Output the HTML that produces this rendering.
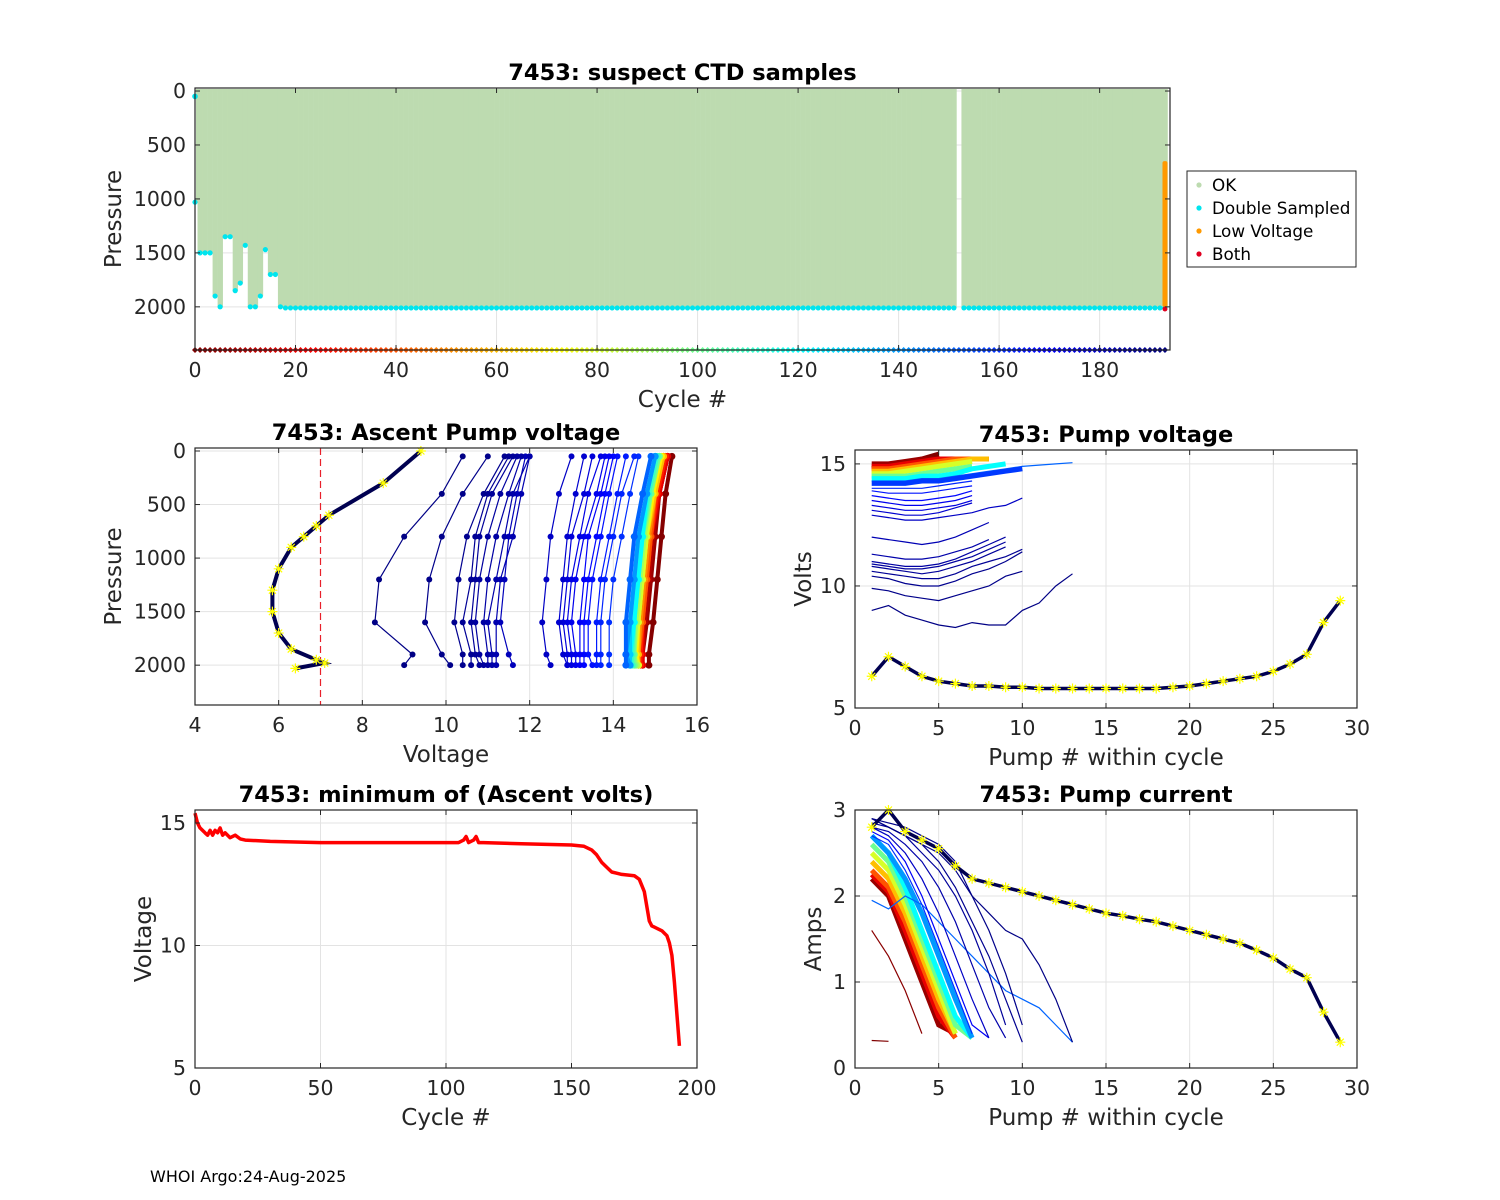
<!DOCTYPE html>
<html><head><meta charset="utf-8"><style>
html,body{margin:0;padding:0;background:#fff;}
svg{display:block;font-family:"DejaVu Sans","Liberation Sans",sans-serif;}
</style></head><body>
<svg id="fig" width="1500" height="1200" viewBox="0 0 1500 1200">
<rect x="0" y="0" width="1500" height="1200" fill="#fff"/>
<text x="150" y="1182" font-size="16" fill="#000">WHOI Argo:24-Aug-2025</text>
</svg>
<script>
// ---------- DATA ----------
const topMaxP = [1030,1500,1500,1500,1900,2000,1350,1350,1850,1780,1430,2000,2000,1900,1470,1700,1700,2000,2010,2010,
2010,2010,2010,2010,2010,2010,2010,2010,2010,2010,2010,2010,2010,2010,2010,2010,2010,2010,2010,2010,
2010,2010,2010,2010,2010,2010,2010,2010,2010,2010,2010,2010,2010,2010,2010,2010,2010,2010,2010,2010,
2010,2010,2010,2010,2010,2010,2010,2010,2010,2010,2010,2010,2010,2010,2010,2010,2010,2010,2010,2010,
2010,2010,2010,2010,2010,2010,2010,2010,2010,2010,2010,2010,2010,2010,2010,2010,2010,2010,2010,2010,
2010,2010,2010,2010,2010,2010,2010,2010,2010,2010,2010,2010,2010,2010,2010,2010,2010,2010,2010,2010,
2010,2010,2010,2010,2010,2010,2010,2010,2010,2010,2010,2010,2010,2010,2010,2010,2010,2010,2010,2010,
2010,2010,2010,2010,2010,2010,2010,2010,2010,2010,2010,2010,0,2010,2010,2010,2010,2010,2010,2010,
2010,2010,2010,2010,2010,2010,2010,2010,2010,2010,2010,2010,2010,2010,2010,2010,2010,2010,2010,2010,
2010,2010,2010,2010,2010,2010,2010,2010,2010,2010,2010,2010,2010,2010];
const lowVoltCycle = 193;
const lowVoltRange = [650, 2000];
const bothPoint = [193, 2020];
const topXTicks = [0,20,40,60,80,100,120,140,160,180];
const pTicks = [0,500,1000,1500,2000];

const profP = [50,400,800,1200,1600,1900,2000];
const profCycles = [192,191,190,189,188,187,186,185,184,182,180,178,176,174,172,170,168,166,164,162,160,150,140,130,120,110,100,90,80,70,60,50,40,30,20,10,5,1];
const profVolts = [
[10.4,9.9,9.0,8.4,8.3,9.2,9.0],[11.0,10.4,9.9,9.6,9.5,9.9,10.1],[11.4,10.9,10.5,10.3,10.2,10.4,10.4],
[11.5,11.0,10.7,10.6,10.4,10.6,10.6],[11.6,11.1,10.8,10.7,10.6,10.7,10.8],[11.7,11.3,11.0,10.8,10.7,10.8,10.9],
[11.8,11.5,11.2,11.0,10.9,11.0,11.0],[12.0,11.6,11.4,11.2,11.0,11.1,11.1],[12.0,11.8,11.6,11.3,11.2,11.2,11.2],
[11.9,11.7,11.5,11.4,11.3,11.5,11.6],[13.0,12.7,12.5,12.4,12.3,12.4,12.5],[13.3,13.1,12.9,12.8,12.7,12.8,12.9],
[13.5,13.3,13.0,12.9,12.8,12.9,12.9],[13.7,13.4,13.2,13.0,12.9,13.0,13.0],[13.8,13.6,13.3,13.1,13.0,13.1,13.1],
[13.9,13.7,13.4,13.3,13.2,13.2,13.2],[14.0,13.8,13.6,13.4,13.3,13.3,13.3],[14.1,13.9,13.7,13.5,13.4,13.4,13.5],
[14.3,14.1,13.9,13.7,13.6,13.6,13.6],[14.5,14.2,14.0,13.8,13.7,13.7,13.7],[14.6,14.4,14.2,14.0,13.9,13.9,13.9],
[14.9,14.7,14.5,14.4,14.3,14.3,14.3],[15.0,14.8,14.6,14.5,14.4,14.3,14.4],[15.0,14.8,14.6,14.5,14.4,14.4,14.4],
[15.0,14.8,14.7,14.6,14.5,14.4,14.4],[15.05,14.85,14.7,14.6,14.5,14.45,14.45],[15.1,14.9,14.7,14.6,14.5,14.5,14.5],
[15.1,14.9,14.75,14.65,14.55,14.5,14.55],[15.1,14.9,14.8,14.7,14.6,14.5,14.6],[15.15,14.95,14.8,14.7,14.6,14.55,14.6],
[15.2,15.0,14.8,14.7,14.6,14.6,14.6],[15.2,15.0,14.85,14.75,14.65,14.6,14.6],[15.2,15.0,14.9,14.8,14.7,14.6,14.6],
[15.25,15.05,14.9,14.8,14.7,14.65,14.65],[15.3,15.1,14.9,14.8,14.7,14.7,14.7],[15.3,15.1,14.95,14.85,14.75,14.7,14.7],
[15.3,15.1,15.0,14.9,14.8,14.7,14.7],[15.4,15.25,15.15,15.05,14.95,14.85,14.85]];
const minProfP = [0,300,600,700,800,900,1100,1300,1500,1700,1850,1950,1980,2030];
const minProfV = [9.4,8.5,7.2,6.9,6.6,6.3,6.0,5.85,5.85,6.0,6.3,6.9,7.1,6.4];
const voltThreshold = 7;
const volTicksX = [4,6,8,10,12,14,16];

const pumpCycles = [192,191,190,189,188,187,186,185,183,180,178,175,172,168,165,162,158,150,120,100,80,60,40,20,5,0];
const pumpVolts = [
[9.0,9.2,8.8,8.6,8.4,8.3,8.5,8.4,8.4,9.0,9.3,10.0,10.5],[9.9,9.8,9.6,9.5,9.4,9.6,9.8,10.0,10.4,10.6],
[10.4,10.3,10.1,10.0,10.0,10.2,10.5,10.7,11.0,11.4],[10.6,10.5,10.4,10.3,10.3,10.5,10.8,11.0,11.2,11.5],
[10.8,10.7,10.6,10.5,10.6,10.8,11.0,11.3,11.6],[10.9,10.8,10.7,10.7,10.8,11.0,11.2,11.5,11.8],
[11.0,10.9,10.8,10.8,10.9,11.1,11.4,11.7,12.0],[11.3,11.2,11.1,11.1,11.2,11.4,11.6,11.9],
[12.0,11.9,11.8,11.7,11.8,12.0,12.3,12.6],[12.9,12.8,12.7,12.7,12.8,12.9,13.0,13.2,13.3,13.6],
[13.1,13.0,12.9,12.9,13.0,13.2,13.4],[13.3,13.2,13.1,13.1,13.2,13.3,13.5],[13.5,13.4,13.3,13.3,13.4,13.5,13.7],
[13.7,13.6,13.5,13.5,13.6,13.7,13.9],[13.9,13.8,13.8,13.8,13.9,14.0,14.1],[14.0,14.0,14.0,14.0,14.1,14.2,14.3],
[14.2,14.2,14.2,14.3,14.3,14.4,14.5,14.6,14.7,14.8],[14.3,14.3,14.3,14.4,14.4,14.5,14.6,14.7,14.8,14.9,14.95,15.0,15.05],
[14.4,14.4,14.4,14.5,14.5,14.6,14.8,14.9,15.0],[14.5,14.5,14.5,14.6,14.7,14.8,14.9],[14.6,14.6,14.7,14.8,14.9,15.0,15.1],
[14.7,14.7,14.8,14.9,15.0,15.1,15.2,15.2],[14.8,14.8,14.9,15.0,15.1,15.2,15.2,15.2],[14.9,14.9,15.0,15.1,15.2,15.2,15.2,15.2],
[15.0,15.0,15.1,15.2,15.2,15.2,15.2,15.2],[14.8,14.9,15.0,15.2,15.4]];
const lastCycleVolts = [6.3,7.1,6.7,6.3,6.1,6.0,5.9,5.9,5.85,5.85,5.8,5.8,5.8,5.8,5.8,5.8,5.8,5.8,5.85,5.9,6.0,6.1,6.2,6.3,6.5,6.8,7.2,8.5,9.4];

const curCycles = [192,191,190,188,185,180,170,160,150,140,120,100,80,60,40,20,5,2,0];
const pumpAmps = [
[2.9,2.8,2.7,2.6,2.5,2.3,2.0,1.8,1.6,1.5,1.2,0.8,0.3],[2.9,2.85,2.8,2.7,2.6,2.4,2.0,1.6,1.1,0.5],
[2.9,2.8,2.7,2.6,2.4,2.1,1.7,1.3,0.8,0.3],[2.85,2.8,2.7,2.5,2.3,2.0,1.6,1.1,0.5],
[2.8,2.75,2.6,2.4,2.1,1.7,1.2,0.7,0.35],[2.8,2.7,2.5,2.2,1.8,1.3,0.8,0.35],
[2.75,2.65,2.4,2.0,1.5,1.0,0.5,0.35],[2.7,2.6,2.3,1.9,1.4,0.9,0.4],
[1.95,1.85,2.0,1.9,1.7,1.5,1.3,1.1,0.9,0.8,0.7,0.5,0.3],[2.7,2.5,2.2,1.8,1.3,0.8,0.35],
[2.7,2.5,2.1,1.6,1.1,0.6,0.35],[2.6,2.4,2.0,1.5,1.0,0.5,0.35],[2.5,2.3,1.9,1.4,0.9,0.4],
[2.4,2.2,1.8,1.3,0.8,0.4],[2.3,2.1,1.7,1.2,0.7,0.35],[2.25,2.05,1.6,1.1,0.6,0.35],
[2.2,2.0,1.5,1.0,0.5,0.4],[1.6,1.3,0.9,0.4],[0.32,0.31]];
const lastCycleAmps = [2.8,3.0,2.75,2.65,2.55,2.35,2.2,2.15,2.1,2.05,2.0,1.95,1.9,1.85,1.8,1.77,1.73,1.7,1.65,1.6,1.55,1.5,1.45,1.37,1.28,1.15,1.05,0.65,0.3];

const minCycles = [0,1,2,4,5,6,7,8,9,10,11,12,14,16,18,20,30,50,80,105,107,108,109,111,112,113,115,130,150,155,158,160,162,164,166,168,170,175,177,179,180,181,182,183,184,186,187,188,189,190,191,192,193];
const minVolts  = [15.4,15.0,14.8,14.6,14.5,14.7,14.5,14.7,14.6,14.8,14.5,14.6,14.4,14.5,14.35,14.3,14.25,14.2,14.2,14.2,14.3,14.45,14.2,14.3,14.45,14.2,14.2,14.15,14.1,14.05,13.9,13.7,13.4,13.2,13.0,12.95,12.9,12.85,12.7,12.2,11.6,11.0,10.8,10.75,10.7,10.6,10.5,10.4,10.1,9.6,8.5,7.2,5.9];
const panelXTicks30 = [0,5,10,15,20,25,30];

// ---------- HELPERS ----------
const NS = "http://www.w3.org/2000/svg";
const fig = document.getElementById('fig');
const TICK_FS = 20.5, LABEL_FS = 23, TITLE_FS = 22.5;
function mk(tag, at, parent){const e=document.createElementNS(NS,tag);for(const k in at)e.setAttribute(k,at[k]);(parent||fig).appendChild(e);return e;}
function clamp(v){return Math.max(0,Math.min(1,v));}
function jet(t){const r=clamp(1.5-Math.abs(4*t-3)),g=clamp(1.5-Math.abs(4*t-2)),b=clamp(1.5-Math.abs(4*t-1));return `rgb(${Math.round(r*255)},${Math.round(g*255)},${Math.round(b*255)})`;}
function cyc(c){return jet(1-c/193);}
function lin(d0,d1,r0,r1){return v=>r0+(v-d0)*(r1-r0)/(d1-d0);}
function grp(name){const g=mk('g',{});return g;}

function axes(o){
  const g=grp(o.name+'-axes');
  o.xTicks.forEach(t=>{const l=mk('line',{x1:o.sx(t),x2:o.sx(t),y1:o.y0,y2:o.y1,stroke:'#e3e3e3','stroke-width':1},g);});
  o.yTicks.forEach(t=>{const l=mk('line',{x1:o.x0,x2:o.x1,y1:o.sy(t),y2:o.sy(t),stroke:'#e3e3e3','stroke-width':1},g);});
  const plot=grp(o.name+'-plot');
  return plot;
}
function axesFrame(o){
  const g=grp(o.name+'-frame');
  const r=mk('rect',{x:o.x0,y:o.y0,width:o.x1-o.x0,height:o.y1-o.y0,fill:'none',stroke:'#262626','stroke-width':1.2},g);
  
  o.xTicks.forEach(t=>{
    const x=o.sx(t);
    const a=mk('line',{x1:x,x2:x,y1:o.y1,y2:o.y1-5,stroke:'#262626'},g);
    const b=mk('line',{x1:x,x2:x,y1:o.y0,y2:o.y0+5,stroke:'#262626'},g);
    const tx=mk('text',{x:x,y:o.y1+27,'font-size':TICK_FS,'text-anchor':'middle',fill:'#262626'},g);tx.textContent=t;
  });
  o.yTicks.forEach(t=>{
    const y=o.sy(t);
    const a=mk('line',{x1:o.x0,x2:o.x0+5,y1:y,y2:y,stroke:'#262626'},g);
    const b=mk('line',{x1:o.x1,x2:o.x1-5,y1:y,y2:y,stroke:'#262626'},g);
    const tx=mk('text',{x:o.x0-9,y:y+7,'font-size':TICK_FS,'text-anchor':'end',fill:'#262626'},g);tx.textContent=t;
  });
  const ti=mk('text',{x:(o.x0+o.x1)/2,y:o.y0-8,'font-size':TITLE_FS,'font-weight':'bold','text-anchor':'middle',fill:'#000'},g);ti.textContent=o.title;
  const xl=mk('text',{x:(o.x0+o.x1)/2,y:o.y1+57,'font-size':LABEL_FS,'text-anchor':'middle',fill:'#262626'},g);xl.textContent=o.xlabel;
  const yx=o.x0-o.ylOff, yy=(o.y0+o.y1)/2;
  const yl=mk('text',{x:yx,y:yy,'font-size':LABEL_FS,'text-anchor':'middle',fill:'#262626',transform:`rotate(-90 ${yx} ${yy})`},g);yl.textContent=o.ylabel;
}
function pts(xs,ys,sx,sy){return xs.map((x,i)=>sx(x).toFixed(1)+','+sy(ys[i]).toFixed(1)).join(' ');}
function star(g,x,y,col){
  const d=`M${x-5},${y}L${x+5},${y}M${x},${y-5}L${x},${y+5}M${x-3.5},${y-3.5}L${x+3.5},${y+3.5}M${x-3.5},${y+3.5}L${x+3.5},${y-3.5}`;
  return mk('path',{d:d,stroke:col,'stroke-width':1.2,fill:'none'},g);
}

// ---------- TOP PANEL ----------
{
  const o={name:'suspect-ctd',x0:195,x1:1170,y0:88,y1:350,xTicks:topXTicks,yTicks:pTicks,title:'7453: suspect CTD samples',xlabel:'Cycle #',ylabel:'Pressure',ylOff:74};
  o.sx=lin(0,194,195,1170); o.sy=lin(-28,2400,88,350);
  const g=axes(o);
  topMaxP.forEach((p,c)=>{
    if(p<=0)return;
    const x0=Math.max(o.x0+1,o.sx(c-0.5)), x1=Math.min(o.x1-1,o.sx(c+0.5)+0.3);
    const r=mk('rect',{x:x0,y:89,width:x1-x0,height:o.sy(p)-89,fill:'#bddbb0'},g);
    
  });
  topMaxP.forEach((p,c)=>{
    if(p<=0)return;
    const d=mk('circle',{cx:o.sx(c),cy:o.sy(p),r:2.6,fill:'#00e5ee'},g);
    
  });
  const dd=mk('circle',{cx:o.sx(0),cy:o.sy(50),r:2.8,fill:'#00e5ee'},g);
  const lv=mk('rect',{x:o.sx(lowVoltCycle)-2.5,y:o.sy(lowVoltRange[0]),width:5,height:o.sy(lowVoltRange[1])-o.sy(lowVoltRange[0]),fill:'#ff9900',rx:2},g);
  
  const bp=mk('circle',{cx:o.sx(bothPoint[0]),cy:o.sy(bothPoint[1]),r:2.5,fill:'#e00020'},g);
  for(let c=0;c<=193;c++){
    const x=o.sx(c),y=o.sy(2400);
    const m=mk('path',{d:`M${x-3},${y}L${x},${y-3}L${x+3},${y}L${x},${y+3}Z`,fill:cyc(c)},g);
    
  }
  axesFrame(o);
  const lg=grp('legend');
  const lb=mk('rect',{x:1187,y:171,width:169,height:96,fill:'#fff',stroke:'#262626','stroke-width':1},lg);
  const items=[['OK','#bddbb0'],['Double Sampled','#00e5ee'],['Low Voltage','#ff9900'],['Both','#e00020']];
  items.forEach((it,i)=>{
    const y=185+i*23;
    const c=mk('circle',{cx:1199,cy:y,r:2.6,fill:it[1]},lg);
    const t=mk('text',{x:1212,y:y+6,'font-size':16.8,fill:'#000'},lg);t.textContent=it[0];
  });
}

// ---------- ASCENT PUMP VOLTAGE ----------
{
  const o={name:'ascent-pump-voltage',x0:195,x1:697,y0:448,y1:705,xTicks:volTicksX,yTicks:pTicks,title:'7453: Ascent Pump voltage',xlabel:'Voltage',ylabel:'Pressure',ylOff:74};
  o.sx=lin(4,16,195,697); o.sy=lin(-28,2372,448,705);
  const g=axes(o);
  const th=mk('line',{x1:o.sx(voltThreshold),x2:o.sx(voltThreshold),y1:o.y0,y2:o.y1,stroke:'#e8202a','stroke-width':1.2,'stroke-dasharray':'7,4'},g);
  
  for(let i=profCycles.length-1;i>=0;i--){
    const c=profCycles[i],col=cyc(c),band=c<=158;
    const pl=mk('polyline',{points:pts(profVolts[i],profP,o.sx,o.sy),fill:'none',stroke:col,'stroke-width':band?4:1.2},g);
    
    profVolts[i].forEach((v,j)=>{const d=mk('circle',{cx:o.sx(v),cy:o.sy(profP[j]),r:band?3.5:3,fill:col},g);});
  }
  const mp=mk('polyline',{points:pts(minProfV,minProfP,o.sx,o.sy),fill:'none',stroke:'#000050','stroke-width':4},g);
  
  minProfV.forEach((v,j)=>{const s=star(g,o.sx(v),o.sy(minProfP[j]),'#ffff00');});
  axesFrame(o);
}

// ---------- PUMP VOLTAGE ----------
{
  const o={name:'pump-voltage',x0:855,x1:1357,y0:450,y1:708,xTicks:panelXTicks30,yTicks:[5,10,15],title:'7453: Pump voltage',xlabel:'Pump # within cycle',ylabel:'Volts',ylOff:44};
  o.sx=lin(0,30,855,1357); o.sy=lin(5,15.57,708,450);
  const g=axes(o);
  for(let i=pumpCycles.length-1;i>=0;i--){
    const c=pumpCycles[i],band=c<=158&&c!==150;
    const xs=pumpVolts[i].map((v,j)=>j+1);
    const pl=mk('polyline',{points:pts(xs,pumpVolts[i],o.sx,o.sy),fill:'none',stroke:cyc(c),'stroke-width':band?5:1.2},g);
    
  }
  const xs=lastCycleVolts.map((v,j)=>j+1);
  const pl=mk('polyline',{points:pts(xs,lastCycleVolts,o.sx,o.sy),fill:'none',stroke:'#000050','stroke-width':3.5},g);
  
  lastCycleVolts.forEach((v,j)=>{const s=star(g,o.sx(j+1),o.sy(v),'#ffff00');});
  axesFrame(o);
}

// ---------- MIN ASCENT VOLTS ----------
{
  const o={name:'min-ascent-volts',x0:195,x1:697,y0:810,y1:1068,xTicks:[0,50,100,150,200],yTicks:[5,10,15],title:'7453: minimum of (Ascent volts)',xlabel:'Cycle #',ylabel:'Voltage',ylOff:44};
  o.sx=lin(0,200,195,697); o.sy=lin(5,15.53,1068,810);
  const g=axes(o);
  const pl=mk('polyline',{points:pts(minCycles,minVolts,o.sx,o.sy),fill:'none',stroke:'#ff0000','stroke-width':3.5,'stroke-linejoin':'round'},g);
  
  axesFrame(o);
}

// ---------- PUMP CURRENT ----------
{
  const o={name:'pump-current',x0:855,x1:1357,y0:810,y1:1068,xTicks:panelXTicks30,yTicks:[0,1,2,3],title:'7453: Pump current',xlabel:'Pump # within cycle',ylabel:'Amps',ylOff:34};
  o.sx=lin(0,30,855,1357); o.sy=lin(0,3,1068,810);
  const g=axes(o);
  for(let i=curCycles.length-1;i>=0;i--){
    const c=curCycles[i],band=c<=158&&c!==150&&c>2;
    const xs=pumpAmps[i].map((v,j)=>j+1);
    const pl=mk('polyline',{points:pts(xs,pumpAmps[i],o.sx,o.sy),fill:'none',stroke:cyc(c),'stroke-width':band?5:1.2},g);
    
  }
  const xs=lastCycleAmps.map((v,j)=>j+1);
  const pl=mk('polyline',{points:pts(xs,lastCycleAmps,o.sx,o.sy),fill:'none',stroke:'#000050','stroke-width':3.5},g);
  
  lastCycleAmps.forEach((v,j)=>{const s=star(g,o.sx(j+1),o.sy(v),'#ffff00');});
  axesFrame(o);
}
</script>
</body></html>
